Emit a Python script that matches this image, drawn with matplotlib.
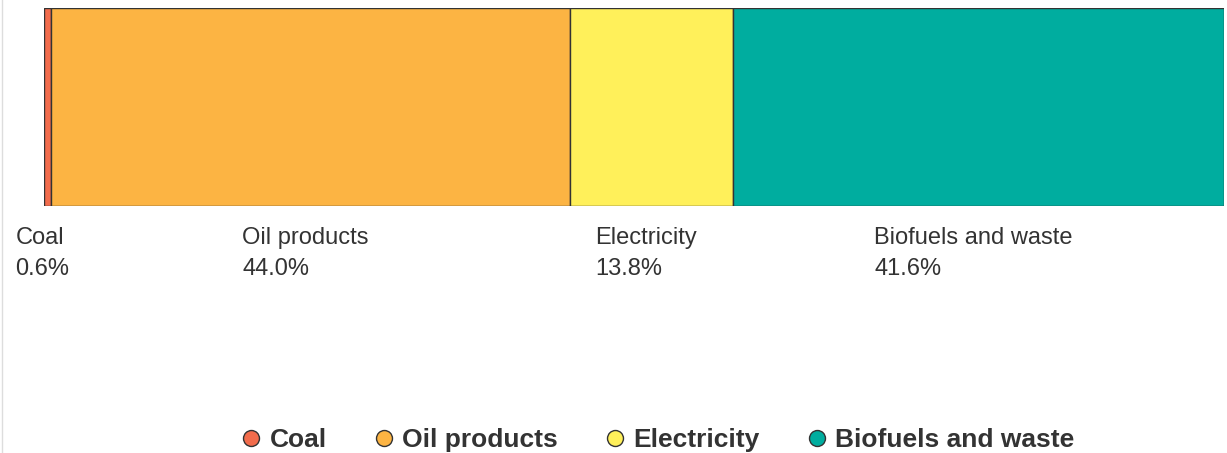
import matplotlib.pyplot as plt
from matplotlib.lines import Line2D

# data
categories = ["Coal", "Oil products", "Electricity", "Biofuels and waste"]
shares = [0.6, 44.0, 13.8, 41.6]
colors = ["#f26c4c", "#fcb443", "#fff05a", "#00ad9f"]

plt.rcParams['font.family'] = ['Liberation Sans', 'DejaVu Sans']

fig = plt.figure(figsize=(12.27, 4.53), dpi=100)
W, H = 1227, 453
ax = fig.add_axes([44 / W, 1 - 206 / H, 1180 / W, 198 / H])

left = 0
for cat, val, col in zip(categories, shares, colors):
    ax.barh(0, val, left=left, height=1, color=col, edgecolor="#333333", linewidth=1)
    ax.annotate("{}\n{:.1f}%".format(cat, val), xy=(left + val / 2, -0.105),
                xycoords=ax.get_xaxis_transform(), xytext=(-3.8, 0),
                textcoords="offset points", ha="center", va="top",
                multialignment="left", fontsize=17, color="#333333", linespacing=1.55)
    left += val

ax.set_xlim(0, sum(shares))
ax.set_ylim(-0.5, 0.5)
ax.axis("off")

# thin gray border at left
fig.add_artist(Line2D([2 / W, 2 / W], [0, 1], color="#dddddd", linewidth=1))

handles = [Line2D([], [], marker="o", linestyle="none", markersize=11.5,
                  markerfacecolor=c, markeredgecolor="#333333", markeredgewidth=1)
           for c in colors]
leg = fig.legend(handles, categories, loc="center", bbox_to_anchor=(655 / W, 1 - 440 / H),
                 ncol=4, frameon=False, handletextpad=0.1, columnspacing=1.56,
                 handlelength=1.2, prop={"weight": "bold", "size": 19})
for t in leg.get_texts():
    t.set_color("#333333")

fig.savefig("out.png", dpi=100)
